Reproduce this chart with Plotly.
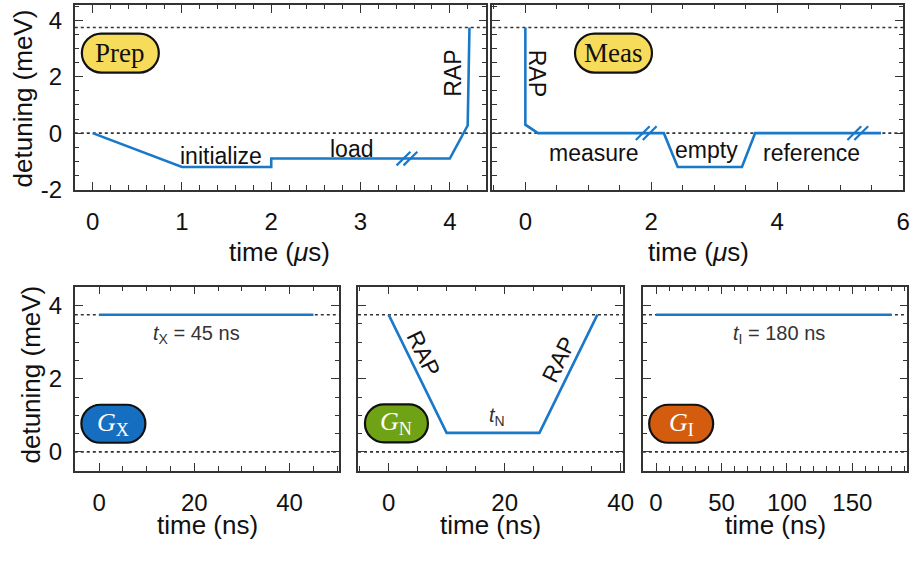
import plotly.graph_objects as go

W, H = 923, 563

# ---- pulse shapes (time, detuning in meV) ----
prep_t = [0, 1, 2, 2, 4, 4.2, 4.22]
prep_d = [0, -1.2, -1.2, -0.9, -0.9, 0.27, 3.75]
meas_t = [0, 0, 0.2, 2.2, 2.42, 3.44, 3.65, 5.65]
meas_d = [3.75, 0.3, 0, 0, -1.2, -1.2, 0, 0]
gx_t = [0, 45]
gx_d = [3.75, 3.75]
gn_t = [0, 10, 26, 36]
gn_d = [3.75, 0.52, 0.52, 3.75]
gi_t = [0, 180]
gi_d = [3.75, 3.75]

ref_levels = [0, 3.75]          # dotted reference detunings
prep_breaks = [(3.52, -0.9)]    # time-axis breaks drawn on the pulse
meas_breaks = [(1.92, 0.0), (5.28, 0.0)]

# tick labels
us_left_ticks = [0, 1, 2, 3, 4]
us_right_ticks = [0, 2, 4, 6]
top_y_ticks = [-2, 0, 2, 4]
bot_y_ticks = [0, 2, 4]
ns_short_ticks = [0, 20, 40]
ns_long_ticks = [0, 50, 100, 150]

LINE = "rgb(26,120,200)"
AX = "#333333"
SANS = "Liberation Sans, Arial, sans-serif"
SERIF = "Liberation Serif, Times New Roman, serif"

# panel boxes in pixels: (left, right, top, bottom), axis ranges
panels = {
    "prep": dict(box=(75.7, 492.3, 5, 194), xr=[-0.2, 4.41], yr=[-2, 4.55]),
    "meas": dict(box=(498.3, 914, 5, 194), xr=[-0.524, 6.0], yr=[-2, 4.55]),
    "gx": dict(box=(75.7, 343, 293.3, 481.7), xr=[-5.1, 50.35], yr=[-0.51, 4.52]),
    "gn": dict(box=(362.3, 630.7, 293.3, 481.7), xr=[-5.28, 40.44], yr=[-0.51, 4.52]),
    "gi": dict(box=(650.7, 918.3, 293.3, 481.7), xr=[-10, 192], yr=[-0.51, 4.52]),
}
order = ["prep", "meas", "gx", "gn", "gi"]


def scale(p):
    l, r, t, b = panels[p]["box"]
    xr, yr = panels[p]["xr"], panels[p]["yr"]
    return (r - l) / (xr[1] - xr[0]), (b - t) / (yr[1] - yr[0])


fig = go.Figure()
layout = dict(
    width=W, height=H, margin=dict(l=0, r=0, t=0, b=0),
    paper_bgcolor="white", plot_bgcolor="white", showlegend=False,
)


def axis(domain, rng, vals, labels_on, minor_dtick, anchor, standoff):
    return dict(
        domain=domain, range=rng, anchor=anchor, showline=True, linecolor=AX,
        linewidth=1.6, mirror="allticks", ticks="inside", ticklen=8, tickwidth=1.3,
        tickcolor=AX, tickmode="array", tickvals=vals,
        ticktext=[str(v) for v in vals], showticklabels=labels_on,
        minor=dict(dtick=minor_dtick, tick0=0, ticks="inside", ticklen=4.5,
                   tickwidth=1.1, tickcolor=AX),
        showgrid=False, zeroline=False, fixedrange=True,
        tickfont=dict(family=SANS, size=24, color="#111"),
        ticklabelstandoff=standoff,
    )


specs = {
    "prep": (us_left_ticks, 0.2, top_y_ticks, True),
    "meas": (us_right_ticks, 0.5, top_y_ticks, False),
    "gx": (ns_short_ticks, 5, bot_y_ticks, True),
    "gn": (ns_short_ticks, 5, bot_y_ticks, False),
    "gi": (ns_long_ticks, 10, bot_y_ticks, False),
}

refs = {}
for i, p in enumerate(order, start=1):
    l, r, t, b = panels[p]["box"]
    sfx = "" if i == 1 else str(i)
    xticks, xminor, yticks, ylab = specs[p]
    layout["xaxis" + sfx] = axis([l / W, r / W], panels[p]["xr"], xticks, True,
                                 xminor, "y" + sfx, 10)
    layout["yaxis" + sfx] = axis([1 - b / H, 1 - t / H], panels[p]["yr"], yticks,
                                 ylab, 0.5, "x" + sfx, 6)
    refs[p] = ("x" + sfx, "y" + sfx)

series = {
    "prep": (prep_t, prep_d), "meas": (meas_t, meas_d),
    "gx": (gx_t, gx_d), "gn": (gn_t, gn_d), "gi": (gi_t, gi_d),
}

shapes = []
annotations = []

# dotted reference levels
for p in order:
    xa, ya = refs[p]
    for lev in ref_levels:
        shapes.append(dict(type="line", xref=xa + " domain", yref=ya, x0=0, x1=1,
                           y0=lev, y1=lev, layer="below",
                           line=dict(color=AX, width=1.6, dash="dot")))

# pulse traces
for p in order:
    xa, ya = refs[p]
    t, d = series[p]
    fig.add_trace(go.Scatter(x=t, y=d, mode="lines", xaxis=xa, yaxis=ya,
                             line=dict(color=LINE, width=2.6), hoverinfo="skip"))

# axis-break marks (pairs of slashes)
for p, brks in (("prep", prep_breaks), ("meas", meas_breaks)):
    xa, ya = refs[p]
    sx, sy = scale(p)
    for bx, by in brks:
        for off in (-3.5, 3.5):
            x0 = bx + (off - 7) / sx
            x1 = bx + (off + 7) / sx
            fig.add_trace(go.Scatter(x=[x0, x1], y=[by - 7 / sy, by + 7 / sy],
                                     mode="lines", xaxis=xa, yaxis=ya,
                                     line=dict(color=LINE, width=2.2),
                                     hoverinfo="skip"))


def stadium(w, h):
    r = h / 2
    a = w / 2 - r
    k = 0.5523 * r
    return (f"M{-a},{-r} L{a},{-r} C{a + k},{-r} {a + r},{-k} {a + r},0 "
            f"C{a + r},{k} {a + k},{r} {a},{r} L{-a},{r} "
            f"C{-a - k},{r} {-a - r},{k} {-a - r},0 "
            f"C{-a - r},{-k} {-a - k},{-r} {-a},{-r} Z")


badges = [
    ("prep", 0.31, 2.84, 77, 39, "rgb(247,220,92)", "Prep", "#111", 27),
    ("meas", 1.4, 2.84, 77, 39, "rgb(247,220,92)", "Meas", "#111", 27),
    ("gx", 3.0, 0.77, 64, 38, "rgb(22,110,192)", "<i>G</i><sub>X</sub>", "white", 26),
    ("gn", 1.35, 0.78, 63, 38, "rgb(112,162,22)", "<i>G</i><sub>N</sub>", "white", 26),
    ("gi", 19.2, 0.77, 64, 38, "rgb(212,92,14)", "<i>G</i><sub>I</sub>", "white", 26),
]
for p, cx, cy, w, h, col, txt, tcol, fs in badges:
    xa, ya = refs[p]
    shapes.append(dict(type="path", xref=xa, yref=ya, xsizemode="pixel",
                       ysizemode="pixel", xanchor=cx, yanchor=cy,
                       path=stadium(w, h), fillcolor=col,
                       line=dict(color="#111", width=2.2), layer="above"))
    annotations.append(dict(x=cx, y=cy, xref=xa, yref=ya, text=txt,
                            showarrow=False, font=dict(family=SERIF, size=fs,
                                                       color=tcol)))

# pulse-segment labels
labels = [
    ("prep", 1.44, -0.8, "initialize", 0, 23, "#111", SANS),
    ("prep", 2.9, -0.55, "load", 0, 23, "#111", SANS),
    ("prep", 4.04, 2.12, "RAP", -90, 23, "#111", SANS),
    ("meas", 0.18, 2.12, "RAP", 90, 23, "#111", SANS),
    ("meas", 1.09, -0.72, "measure", 0, 23, "#111", SANS),
    ("meas", 2.87, -0.6, "empty", 0, 23, "#111", SANS),
    ("meas", 4.55, -0.72, "reference", 0, 23, "#111", SANS),
    ("gx", 20.4, 3.2, "<i>t</i><sub>X</sub> = 45 ns", 0, 20, "#333", SANS),
    ("gn", 5.96, 2.7, "RAP", 64, 23, "#111", SANS),
    ("gn", 29.25, 2.52, "RAP", -64, 23, "#111", SANS),
    ("gn", 18.7, 0.96, "<i>t</i><sub>N</sub>", 0, 20, "#333", SANS),
    ("gi", 94, 3.2, "<i>t</i><sub>I</sub> = 180 ns", 0, 20, "#333", SANS),
]
for p, x, y, txt, ang, fs, col, fam in labels:
    xa, ya = refs[p]
    annotations.append(dict(x=x, y=y, xref=xa, yref=ya, text=txt, textangle=ang,
                            showarrow=False,
                            font=dict(family=fam, size=fs, color=col)))

# axis titles
titles = [
    (283, 258, "time (<i>μ</i>s)", 0),
    (706.7, 258, "time (<i>μ</i>s)", 0),
    (209.7, 537, "time (ns)", 0),
    (496.7, 537, "time (ns)", 0),
    (784.7, 537, "time (ns)", 0),
    (23, 101, "detuning (meV)", -90),
    (31.7, 383, "detuning (meV)", -90),
]
for px, py, txt, ang in titles:
    annotations.append(dict(x=px / W, y=1 - py / H, xref="paper", yref="paper",
                            text=txt, textangle=ang, showarrow=False,
                            xanchor="center", yanchor="middle",
                            font=dict(family=SANS, size=26, color="#111")))

layout["shapes"] = shapes
layout["annotations"] = annotations
fig.update_layout(**layout)
fig.write_html("out.html")
